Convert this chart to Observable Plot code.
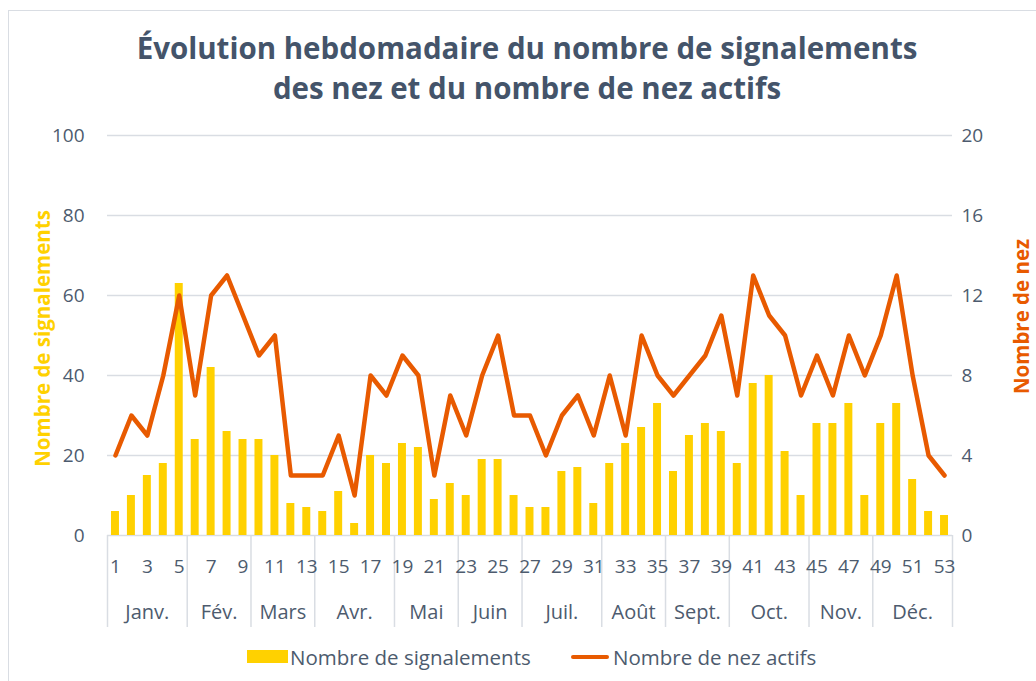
<!DOCTYPE html>
<html>
<head>
<meta charset="utf-8">
<script src="https://cdn.jsdelivr.net/npm/d3@7"></script>
<script src="https://cdn.jsdelivr.net/npm/@observablehq/plot@0.6"></script>
<style>
  html, body { margin: 0; padding: 0; background: #fff; }
  #wrap { position: relative; width: 1036px; height: 681px; overflow: hidden; font-family: "Open Sans", sans-serif; }
  #frame { position: absolute; left: 8px; top: 10px; width: 1060px; height: 700px; border: 1.5px solid #D9DDE3; box-sizing: border-box; }
  #title { position: absolute; left: 9px; top: 0; width: 1036px; height: 120px; text-align: center; color: #44546A; font-weight: 700; font-size: 29.5px; line-height: 40px; padding-top: 28px; box-sizing: border-box; white-space: nowrap; }
  #chart { position: absolute; left: 0; top: 120px; }
  #legend { position: absolute; left: 0; top: 640px; width: 1036px; height: 41px; font-size: 20.5px; color: #4D5B6E; }
  .sw { position: absolute; }
  .lt { position: absolute; top: 3px; line-height: 28px; white-space: nowrap; }
</style>
</head>
<body>
<div id="wrap">
  <div id="frame"></div>
  <div id="title">Évolution hebdomadaire du nombre de signalements<br>des nez et du nombre de nez actifs</div>
  <div id="chart"></div>
  <div id="legend">
    <div class="sw" style="left:247px; top:10px; width:41px; height:13px; background:#FFD100;"></div>
    <div class="lt" style="left:290px;">Nombre de signalements</div>
    <div class="sw" style="left:571px; top:15px; width:38px; height:4px; border-radius:2px; background:#E85A00;"></div>
    <div class="lt" style="left:613px;">Nombre de nez actifs</div>
  </div>
</div>
<script>
// ---- Data ----
const weeks = d3.range(1, 54);
const signalements = [6,10,15,18,63,24,42,26,24,24,20,8,7,6,11,3,20,18,23,22,9,13,10,19,19,10,7,7,16,17,8,18,23,27,33,16,25,28,26,18,38,40,21,10,28,28,33,10,28,33,14,6,5];
const nezActifs = [4,6,5,8,12,7,12,13,11,9,10,3,3,3,5,2,8,7,9,8,3,7,5,8,10,6,6,4,6,7,5,8,5,10,8,7,8,9,11,7,13,11,10,7,9,7,10,8,10,13,8,4,3];
const months = ["Janv.","Fév.","Mars","Avr.","Mai","Juin","Juil.","Août","Sept.","Oct.","Nov.","Déc."];
const monthLastWeek = [5,9,13,18,22,26,31,35,39,44,48,53];
const leftTicks = [0,20,40,60,80,100];
const rightTicks = [0,4,8,12,16,20];
const weekTicks = d3.range(1, 54, 2);

// ---- Derived tables ----
const data = weeks.map((w, i) => ({week: w, signalements: signalements[i], nez: nezActifs[i]}));
const monthData = months.map((m, i) => {
  const first = i === 0 ? 1 : monthLastWeek[i - 1] + 1;
  return {month: m, center: (first + monthLastWeek[i]) / 2};
});
const boundaries = [0.5, ...monthLastWeek.map(w => w + 0.5)];
const ratio = 100 / 20; // left scale / right scale

const textColor = "#4D5B6E";
const gridColor = "#D9DDE3";
const font = "Open Sans, sans-serif";

const chart = Plot.plot({
  width: 1036,
  height: 520,
  marginTop: 15,
  marginBottom: 105,
  marginLeft: 107,
  marginRight: 84,
  style: {fontFamily: font, background: "transparent", overflow: "visible"},
  x: {type: "linear", domain: [0.5, 53.5], axis: null},
  y: {domain: [0, 100], axis: null},
  marks: [
    Plot.ruleY(leftTicks, {stroke: gridColor, strokeWidth: 1.5}),
    Plot.ruleX(boundaries, {y1: 0, y2: -23, stroke: gridColor, strokeWidth: 1.5}),
    Plot.rectY(data, {x1: d => d.week - 0.25, x2: d => d.week + 0.25, y: "signalements", fill: "#FFD100"}),
    Plot.line(data, {x: "week", y: d => d.nez * ratio, stroke: "#E85A00", strokeWidth: 4.5, strokeLinejoin: "round", strokeLinecap: "round"}),
    Plot.axisY({anchor: "left", ticks: leftTicks, tickSize: 0, tickPadding: 23, fontSize: 19, color: textColor, label: null}),
    Plot.axisY({anchor: "right", ticks: rightTicks.map(t => t * ratio), tickFormat: d => d / ratio, tickSize: 0, tickPadding: 9, fontSize: 19, color: textColor, label: null}),
    Plot.text(weekTicks, {x: d => d, y: -7.75, text: d => String(d), fontSize: 19, fill: textColor}),
    Plot.text(monthData, {x: "center", y: -19.25, text: "month", fontSize: 20, fill: textColor}),
    Plot.text(["Nombre de signalements"], {frameAnchor: "left", textAnchor: "middle", dx: -64, dy: 3, rotate: -90, text: d => d, fontSize: 20.5, fontWeight: "bold", fill: "#FFD100"}),
    Plot.text(["Nombre de nez"], {frameAnchor: "right", textAnchor: "middle", dx: 70, dy: -19, rotate: -90, text: d => d, fontSize: 20.5, fontWeight: "bold", fill: "#E85A00"})
  ]
});
document.getElementById("chart").appendChild(chart);
</script>
</body>
</html>
